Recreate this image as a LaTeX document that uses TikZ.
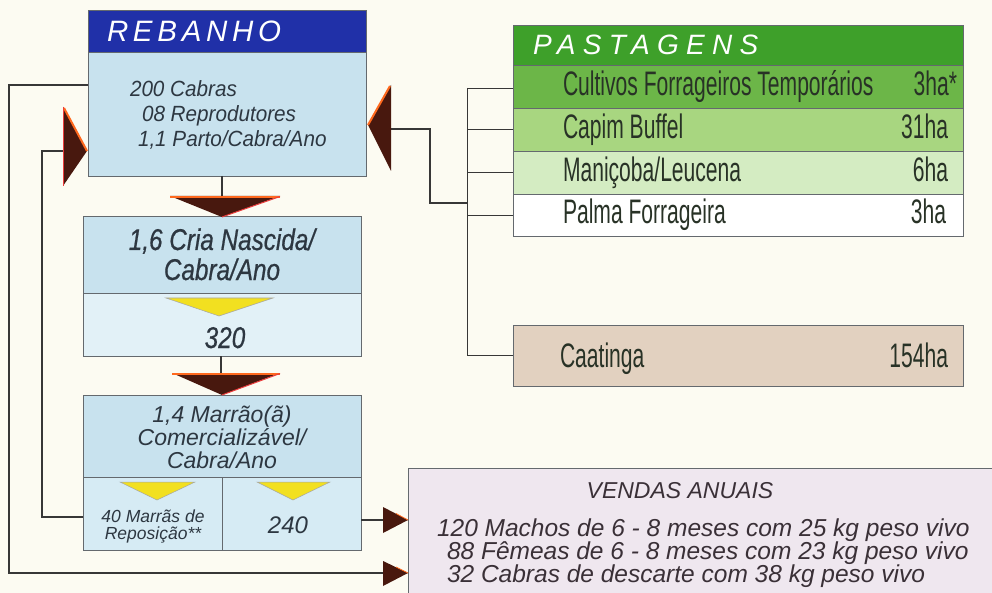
\documentclass[tikz,border=0pt]{standalone}
\usepackage{fontspec}
\setmainfont{Liberation Sans}
\newfontfamily\rebf[FakeStretch=0.94]{Liberation Sans}
\newfontfamily\criaf[FakeStretch=0.81,FakeBold=0.6]{Liberation Sans}
\newfontfamily\pastf[FakeStretch=0.62]{Liberation Sans}
\newfontfamily\rebhf[LetterSpace=16]{Liberation Sans}
\newfontfamily\pasthf[LetterSpace=26]{Liberation Sans}
\definecolor{bgc}{RGB}{252,251,242}
\definecolor{hblue}{RGB}{32,48,168}
\definecolor{lblue}{RGB}{200,226,238}
\definecolor{llblue}{RGB}{226,241,247}
\definecolor{cblue}{RGB}{214,235,244}
\definecolor{g0}{RGB}{62,160,42}
\definecolor{g1}{RGB}{108,182,72}
\definecolor{g2}{RGB}{168,214,128}
\definecolor{g3}{RGB}{212,236,194}
\definecolor{caat}{RGB}{226,209,192}
\definecolor{vend}{RGB}{239,231,239}
\definecolor{darkb}{RGB}{72,24,14}
\definecolor{orng}{RGB}{255,105,30}
\definecolor{redl}{RGB}{235,60,60}
\definecolor{yel}{RGB}{242,224,32}
\definecolor{txt}{RGB}{45,55,65}
\definecolor{ptxt}{RGB}{40,50,38}
\definecolor{vtxt}{RGB}{58,48,55}
\definecolor{lnc}{RGB}{55,55,55}
\definecolor{bdr}{RGB}{100,105,110}
\tikzset{
  box/.style={draw=bdr, line width=0.8pt, inner sep=0pt, outer sep=0pt, anchor=north west},
  conn/.style={draw=lnc, line width=1.1pt},
  tick/.style={draw=lnc, line width=0.9pt},
  txtnode/.style={inner sep=0pt, outer sep=0pt},
  darktri/.style={fill=darkb},
  yeltri/.style={fill=yel, draw=gray!70, line width=0.5pt},
}
\begin{document}
\begin{tikzpicture}[x=1pt,y=-1pt]
\fill[bgc] (0,0) rectangle (992,593);
\useasboundingbox (0,0) rectangle (992,593);

% ---------- REBANHO ----------
\node[box, fill=hblue, minimum width=278pt, minimum height=42pt] (rebhead) at (88,10) {};
\node[box, fill=lblue, minimum width=278pt, minimum height=124pt] (rebbody) at (88,52) {};
\node[txtnode, anchor=base west, text=white] (rebt) at (107,42) {\rebhf\itshape\fontsize{29.5}{30}\selectfont REBANHO};
\node[txtnode, anchor=base west, text=txt] (reb1) at (130,97) {\rebf\itshape\fontsize{22}{24}\selectfont 200 Cabras};
\node[txtnode, anchor=base west, text=txt] (reb2) at (142,122) {\rebf\itshape\fontsize{22}{24}\selectfont 08 Reprodutores};
\node[txtnode, anchor=base west, text=txt] (reb3) at (138,147) {\rebf\itshape\fontsize{22}{24}\selectfont 1,1 Parto/Cabra/Ano};

% ---------- Box 2 ----------
\node[box, fill=lblue, minimum width=278pt, minimum height=77pt] (criatop) at (83,216) {};
\node[box, fill=llblue, minimum width=278pt, minimum height=63pt] (criabot) at (83,293) {};
\node[txtnode, anchor=base, text=txt] (cria1) at (222,250) {\criaf\itshape\fontsize{30}{32}\selectfont 1,6 Cria Nascida/};
\node[txtnode, anchor=base, text=txt] (cria2) at (222,280) {\criaf\itshape\fontsize{30}{32}\selectfont Cabra/Ano};
\node[txtnode, anchor=base, text=txt] (cria3) at (225,348) {\criaf\itshape\fontsize{30}{32}\selectfont 320};
\path[yeltri] (166,298) -- (273,298) -- (219,316) -- cycle;

% ---------- Box 3 ----------
\node[box, fill=lblue, minimum width=278pt, minimum height=82pt] (martop) at (83,395) {};
\node[box, fill=cblue, minimum width=139pt, minimum height=73pt] (marl) at (83,477) {};
\node[box, fill=cblue, minimum width=139pt, minimum height=73pt] (marr) at (222,477) {};
\node[txtnode, anchor=base, text=txt] (mar1) at (222,422) {\itshape\fontsize{23}{24}\selectfont 1,4 Marrão(ã)};
\node[txtnode, anchor=base, text=txt] (mar2) at (222,445) {\itshape\fontsize{23}{24}\selectfont Comercializável/};
\node[txtnode, anchor=base, text=txt] (mar3) at (222,468) {\itshape\fontsize{23}{24}\selectfont Cabra/Ano};
\node[txtnode, anchor=base, text=txt, align=center, font=\itshape\fontsize{17.5}{16.5}\selectfont] (repo) at (153,539) {40 Marrãs de\\Reposição**};
\node[txtnode, anchor=base, text=txt] (v240) at (288,533) {\itshape\fontsize{24}{26}\selectfont 240};
\path[yeltri] (120,482) -- (195,482) -- (157,500) -- cycle;
\path[yeltri] (257,482) -- (330,482) -- (293,500) -- cycle;

% ---------- PASTAGENS ----------
\node[box, fill=g0, minimum width=450pt, minimum height=40pt] (pasthead) at (513,25) {};
\node[box, fill=g1, minimum width=450pt, minimum height=43pt] (row1) at (513,65) {};
\node[box, fill=g2, minimum width=450pt, minimum height=43pt] (row2) at (513,108) {};
\node[box, fill=g3, minimum width=450pt, minimum height=43pt] (row3) at (513,151) {};
\node[box, fill=white, minimum width=450pt, minimum height=42pt] (row4) at (513,194) {};
\node[txtnode, anchor=base west, text=white] (pastt) at (533,55) {\pasthf\itshape\fontsize{28}{30}\selectfont PASTAGENS};
\node[txtnode, anchor=base west, text=ptxt] (r1a) at (563,96) {\pastf\fontsize{34}{36}\selectfont Cultivos Forrageiros Temporários};
\node[txtnode, anchor=base east, text=ptxt] (r1b) at (957,96) {\pastf\fontsize{34}{36}\selectfont 3ha*};
\node[txtnode, anchor=base west, text=ptxt] (r2a) at (563,139) {\pastf\fontsize{34}{36}\selectfont Capim Buffel};
\node[txtnode, anchor=base east, text=ptxt] (r2b) at (948,139) {\pastf\fontsize{34}{36}\selectfont 31ha};
\node[txtnode, anchor=base west, text=ptxt] (r3a) at (563,182) {\pastf\fontsize{34}{36}\selectfont Maniçoba/Leucena};
\node[txtnode, anchor=base east, text=ptxt] (r3b) at (948,182) {\pastf\fontsize{34}{36}\selectfont 6ha};
\node[txtnode, anchor=base west, text=ptxt] (r4a) at (563,224) {\pastf\fontsize{34}{36}\selectfont Palma Forrageira};
\node[txtnode, anchor=base east, text=ptxt] (r4b) at (946,224) {\pastf\fontsize{34}{36}\selectfont 3ha};

% ---------- Caatinga ----------
\node[box, fill=caat, minimum width=450pt, minimum height=61pt] (caat) at (513,325) {};
\node[txtnode, anchor=base west, text=ptxt] (caata) at (560,367) {\pastf\fontsize{34}{36}\selectfont Caatinga};
\node[txtnode, anchor=base east, text=ptxt] (caatb) at (948,367) {\pastf\fontsize{34}{36}\selectfont 154ha};

% ---------- VENDAS ----------
\node[box, fill=vend, minimum width=600pt, minimum height=140pt] (vend) at (408,468) {};
\node[txtnode, anchor=base, text=vtxt] (vendt) at (680,498) {\itshape\fontsize{23}{24}\selectfont VENDAS ANUAIS};
\node[txtnode, anchor=base west, text=vtxt] (vend1) at (437,536) {\itshape\fontsize{24.5}{26}\selectfont 120 Machos de 6 - 8 meses com 25 kg peso vivo};
\node[txtnode, anchor=base west, text=vtxt] (vend2) at (447,559) {\itshape\fontsize{24.5}{26}\selectfont 88 Fêmeas de 6 - 8 meses com 23 kg peso vivo};
\node[txtnode, anchor=base west, text=vtxt] (vend3) at (447,582) {\itshape\fontsize{24.5}{26}\selectfont 32 Cabras de descarte com 38 kg peso vivo};

% ---------- coordinates ----------
\coordinate (dA) at (222,196);
\coordinate (dB) at (221,373);
\coordinate (lT) at (63,151);
\coordinate (rT) at (391,129);
\coordinate (vA) at (383,520);
\coordinate (vB) at (383,573);
\coordinate (o1) at (9,85);
\coordinate (i1) at (42,517);
\coordinate (j1) at (430,129);
\coordinate (j2) at (430,203);
\coordinate (bk) at (467,203);
\coordinate (bkTop) at (467,88);
\coordinate (bkBot) at (467,356);

% ---------- connectors ----------
\draw[conn] (rebbody.south -| dA) -- (dA);
\draw[conn] (criabot.south -| dB) -- (dB);
\draw[conn] (rebbody.west |- o1) -- (o1) -- (o1 |- vB) -- (vB);
\draw[conn] (marl.west |- i1) -- (i1) -- (i1 |- lT) -- (lT);
\draw[conn] (marr.east |- vA) -- (vA);
\draw[conn] (rT) -- (j1) -- (j2) -- (bk);
\draw[tick] (bkTop) -- (bkBot);
\draw[tick] (bkTop) -- (row1.west |- bkTop);
\draw[tick] (bkTop |- row2.west) -- (row2.west);
\draw[tick] (bkTop |- row3.west) -- (row3.west);
\draw[tick] (bkTop |- row4.west) -- (row4.west);
\draw[tick] (bkTop |- caat.west) -- (caat.west);

% ---------- dark arrow heads ----------
\fill[darkb] (170,196) -- (280,196) -- (222,217) -- cycle;
\draw[orng, line width=1.6pt] (170,196.8) -- (280,196.8);
\draw[redl, line width=1pt] (280,196.5) -- (222,217);
\fill[darkb] (172,373) -- (280,373) -- (222,395) -- cycle;
\draw[orng, line width=1.6pt] (172,373.8) -- (280,373.8);
\draw[redl, line width=1pt] (280,373.5) -- (222,395);
\fill[darkb] (63,107) -- (87,151) -- (63,186) -- cycle;
\draw[orng, line width=2pt] (64,108) -- (87,151);
\draw[redl, line width=0.8pt] (63,107) -- (63,186);
\fill[darkb] (391,85) -- (368,125) -- (391,171) -- cycle;
\draw[orng, line width=2pt] (390,86) -- (368,125);
\fill[darkb] (383,507) -- (408,520) -- (383,533) -- cycle;
\draw[orng, line width=0.8pt] (396,513.5) -- (408,520);
\fill[darkb] (383,561) -- (408,573) -- (383,586) -- cycle;
\draw[orng, line width=0.8pt] (396,567) -- (408,573);
\end{tikzpicture}
\end{document}
